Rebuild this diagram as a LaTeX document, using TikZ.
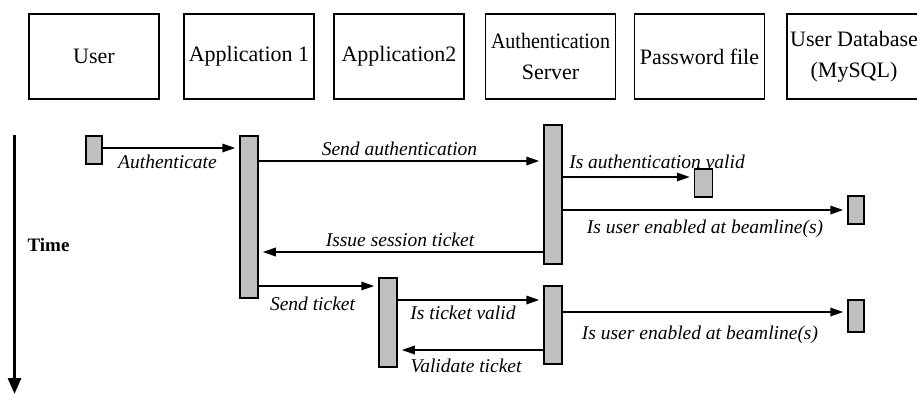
\documentclass[tikz,border=0pt]{standalone}
\usepackage{fontspec}
\usepackage{graphicx}
\setmainfont{Liberation Serif}
\usetikzlibrary{arrows.meta}
\tikzset{
  head/.style={draw, line width=1.8pt, minimum width=130pt, minimum height=85pt, inner sep=0pt, align=center, font=\fontsize{22}{31}\selectfont},
  bar/.style={draw, line width=1.5pt, fill=gray!50, inner sep=0pt},
  msg/.style={line width=1.8pt, -{Triangle[length=13pt,width=8.5pt]}, shorten >=4pt},
  lbl/.style={anchor=base, inner sep=0pt, font=\fontsize{19.5}{22}\selectfont\itshape},
  timearrow/.style={line width=3pt, -{Triangle[length=16pt,width=13pt]}}
}
\begin{document}
\begin{tikzpicture}[x=1pt,y=-1pt]
\useasboundingbox (0,0) rectangle (917,394);
% header boxes
\node[head] (user) at (94,56.5) {User};
\node[head] (app1) at (249,56.5) {Application 1};
\node[head] (app2) at (399,56.5) {Application2};
\node[head] (auth) at (550.5,56.5) {\scalebox{0.91}[1]{Authentication}\\Server};
\node[head] (pw) at (699.5,56.5) {Password file};
\node[head, minimum width=134pt] (db) at (854,56.5) {User Database\\(MySQL)};
% time axis
\coordinate (t0) at (14.5,135);
\coordinate (t1) at (14.5,394);
\draw[timearrow] (t0) -- (t1);
\node[anchor=base, inner sep=0pt, font=\fontsize{19}{22}\selectfont\bfseries] (time) at (48.5,251) {Time};
% activation bars
\node[bar, minimum width=16pt, minimum height=28pt] (ubar) at (94,150) {};
\node[bar, minimum width=18pt, minimum height=162pt] (a1bar) at (249,217) {};
\node[bar, minimum width=18pt, minimum height=139pt] (as1bar) at (553,194.5) {};
\node[bar, minimum width=18pt, minimum height=28pt] (pwbar) at (703.5,183) {};
\node[bar, minimum width=16pt, minimum height=28pt] (db1bar) at (856,210) {};
\node[bar, minimum width=18pt, minimum height=89pt] (a2bar) at (388,322.5) {};
\node[bar, minimum width=18pt, minimum height=78pt] (as2bar) at (553,325) {};
\node[bar, minimum width=16pt, minimum height=32pt] (db2bar) at (856,316) {};
% messages
\draw[msg] (ubar.east |- 0,148) -- (a1bar.west |- 0,148);
\node[lbl] (l1) at (167.5,168) {Authenticate};
\draw[msg] (a1bar.east |- 0,161) -- (as1bar.west |- 0,161);
\node[lbl] (l2) at (399.5,155) {Send authentication};
\draw[msg] (as1bar.east |- 0,177) -- (pwbar.west |- 0,177);
\node[lbl] (l3) at (657,168) {Is authentication valid};
\draw[msg] (as1bar.east |- 0,210) -- (db1bar.west |- 0,210);
\node[lbl] (l4) at (705,233) {Is user enabled at beamline(s)};
\draw[msg] (as1bar.west |- 0,252) -- (a1bar.east |- 0,252);
\node[lbl] (l5) at (400,246) {Issue session ticket};
\draw[msg] (a1bar.east |- 0,286) -- (a2bar.west |- 0,286);
\node[lbl] (l6) at (312.5,310) {Send ticket};
\draw[msg] (a2bar.east |- 0,300) -- (as2bar.west |- 0,300);
\node[lbl] (l7) at (463,319) {Is ticket valid};
\draw[msg] (as2bar.west |- 0,350) -- (a2bar.east |- 0,350);
\node[lbl] (l8) at (466,372) {Validate ticket};
\draw[msg] (as2bar.east |- 0,312) -- (db2bar.west |- 0,312);
\node[lbl] (l9) at (700,339) {Is user enabled at beamline(s)};
\end{tikzpicture}
\end{document}
